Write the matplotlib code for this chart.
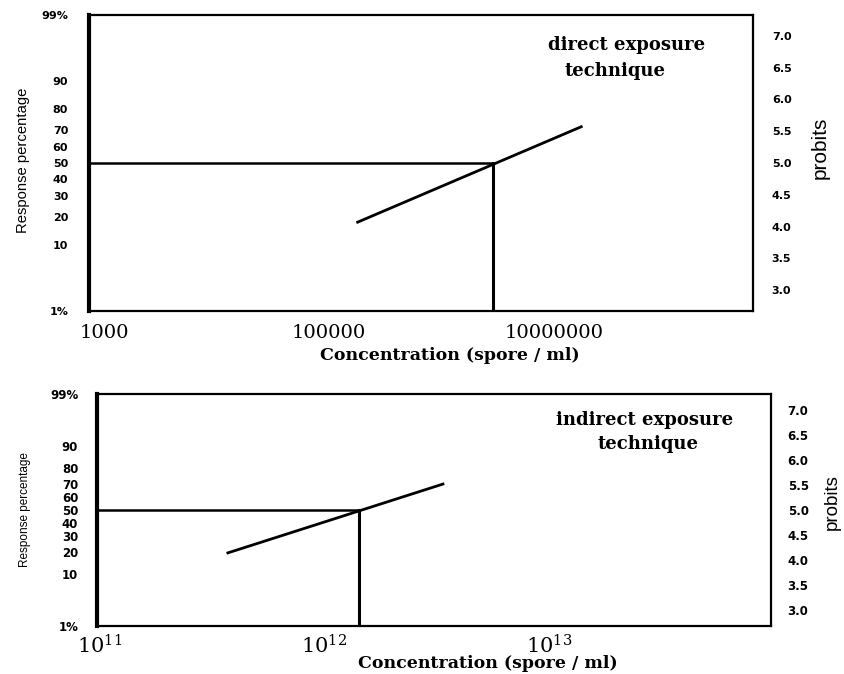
import matplotlib
matplotlib.use("Agg")
import matplotlib.pyplot as plt
from matplotlib.ticker import NullLocator
from statistics import NormalDist

plt.rcParams['mathtext.fontset'] = 'dejavuserif'

# ---------------- data ----------------
pct_ticks = [1, 10, 20, 30, 40, 50, 60, 70, 80, 90, 99]
pct_labels = ["1%", "10", "20", "30", "40", "50", "60", "70", "80", "90", "99%"]
probit_ticks = [3.0, 3.5, 4.0, 4.5, 5.0, 5.5, 6.0, 6.5, 7.0]
probit_labels = ["3.0", "3.5", "4.0", "4.5", "5.0", "5.5", "6.0", "6.5", "7.0"]

# direct exposure technique
direct_conc = [1.8e5, 1.75e7]
direct_probit = [4.07, 5.57]
direct_lc50 = 2.87e6
direct_xticks = [1e3, 1e5, 1e7]
direct_xlabels = ["1000", "100000", "10000000"]
direct_xlim = (10 ** 2.867, 10 ** 8.77)

# indirect exposure technique
indirect_conc = [3.73e11, 3.37e12]
indirect_probit = [4.14, 5.52]
indirect_lc50 = 1.43e12
indirect_xticks = [1e11, 1e12, 1e13]
indirect_xlabels = [r"$\mathregular{10^{11}}$", r"$\mathregular{10^{12}}$", r"$\mathregular{10^{13}}$"]
indirect_xlim = (10 ** 10.99, 10 ** 13.986)

probit = lambda p: 5 + NormalDist().inv_cdf(p / 100.0)
ylim = (probit(1), probit(99))

W, H = 845, 674
fig = plt.figure(figsize=(W / 100, H / 100), dpi=100)


def panel(rect, conc, prob, lc50, xticks, xlabels, xlim, xfs, xpad, yfs, lpad, rpad):
    ax = fig.add_axes(rect)
    ax.set_xscale('log')
    ax.set_xlim(*xlim)
    ax.set_ylim(*ylim)
    ax.plot(conc, prob, color='black', lw=2)
    ax.plot([xlim[0], lc50], [5, 5], color='black', lw=1.8)
    ax.plot([lc50, lc50], [ylim[0], 5], color='black', lw=2.2)
    ax.set_xticks(xticks)
    ax.set_xticklabels(xlabels, family='DejaVu Serif', fontsize=xfs)
    ax.xaxis.set_minor_locator(NullLocator())
    ax.tick_params(axis='x', length=0, pad=xpad)
    ax.set_yticks([probit(p) for p in pct_ticks])
    ax.set_yticklabels(pct_labels, family='DejaVu Sans', fontweight='bold', fontsize=yfs)
    ax.tick_params(axis='y', length=0, pad=lpad)
    for s in ['top', 'right', 'bottom']:
        ax.spines[s].set_linewidth(1.6)
    ax.spines['left'].set_linewidth(3)
    ax2 = ax.twinx()
    ax2.set_ylim(*ylim)
    ax2.set_yticks(probit_ticks)
    ax2.set_yticklabels(probit_labels, family='DejaVu Sans', fontweight='bold', fontsize=yfs)
    ax2.tick_params(axis='y', length=0, pad=rpad)
    for s in ax2.spines.values():
        s.set_visible(False)
    return ax


panel([89 / W, 1 - 311 / H, 664 / W, 296 / H],
      direct_conc, direct_probit, direct_lc50, direct_xticks, direct_xlabels,
      direct_xlim, 14, 9, 8, 15, 13.5)

panel([97 / W, 1 - 626 / H, 674 / W, 232 / H],
      indirect_conc, indirect_probit, indirect_lc50, indirect_xticks, indirect_xlabels,
      indirect_xlim, 15, 6, 8.5, 13.5, 12)


def ftext(x, y, s, **kw):
    fig.text(x / W, 1 - y / H, s, ha='center', va='center', **kw)


serif_title = dict(family='DejaVu Serif', fontsize=13, fontweight='bold')
ftext(627, 45, "direct exposure", **serif_title)
ftext(615, 71, "technique", **serif_title)
ftext(645, 420, "indirect exposure", **serif_title)
ftext(648, 444, "technique", **serif_title)

sans = dict(family='Liberation Sans')
ftext(23, 160, "Response percentage", rotation=90, fontsize=10.7, **sans)
ftext(25, 510, "Response percentage", rotation=90, fontsize=8.5, **sans)
ftext(820, 148, "probits", rotation=90, fontsize=15, **sans)
ftext(832, 502, "probits", rotation=90, fontsize=13.5, **sans)

xlab = dict(family='DejaVu Serif', fontsize=12.5, fontweight='bold')
ftext(450, 356, "Concentration (spore / ml)", **xlab)
ftext(488, 664, "Concentration (spore / ml)", **xlab)

fig.savefig("out.png", dpi=100)
